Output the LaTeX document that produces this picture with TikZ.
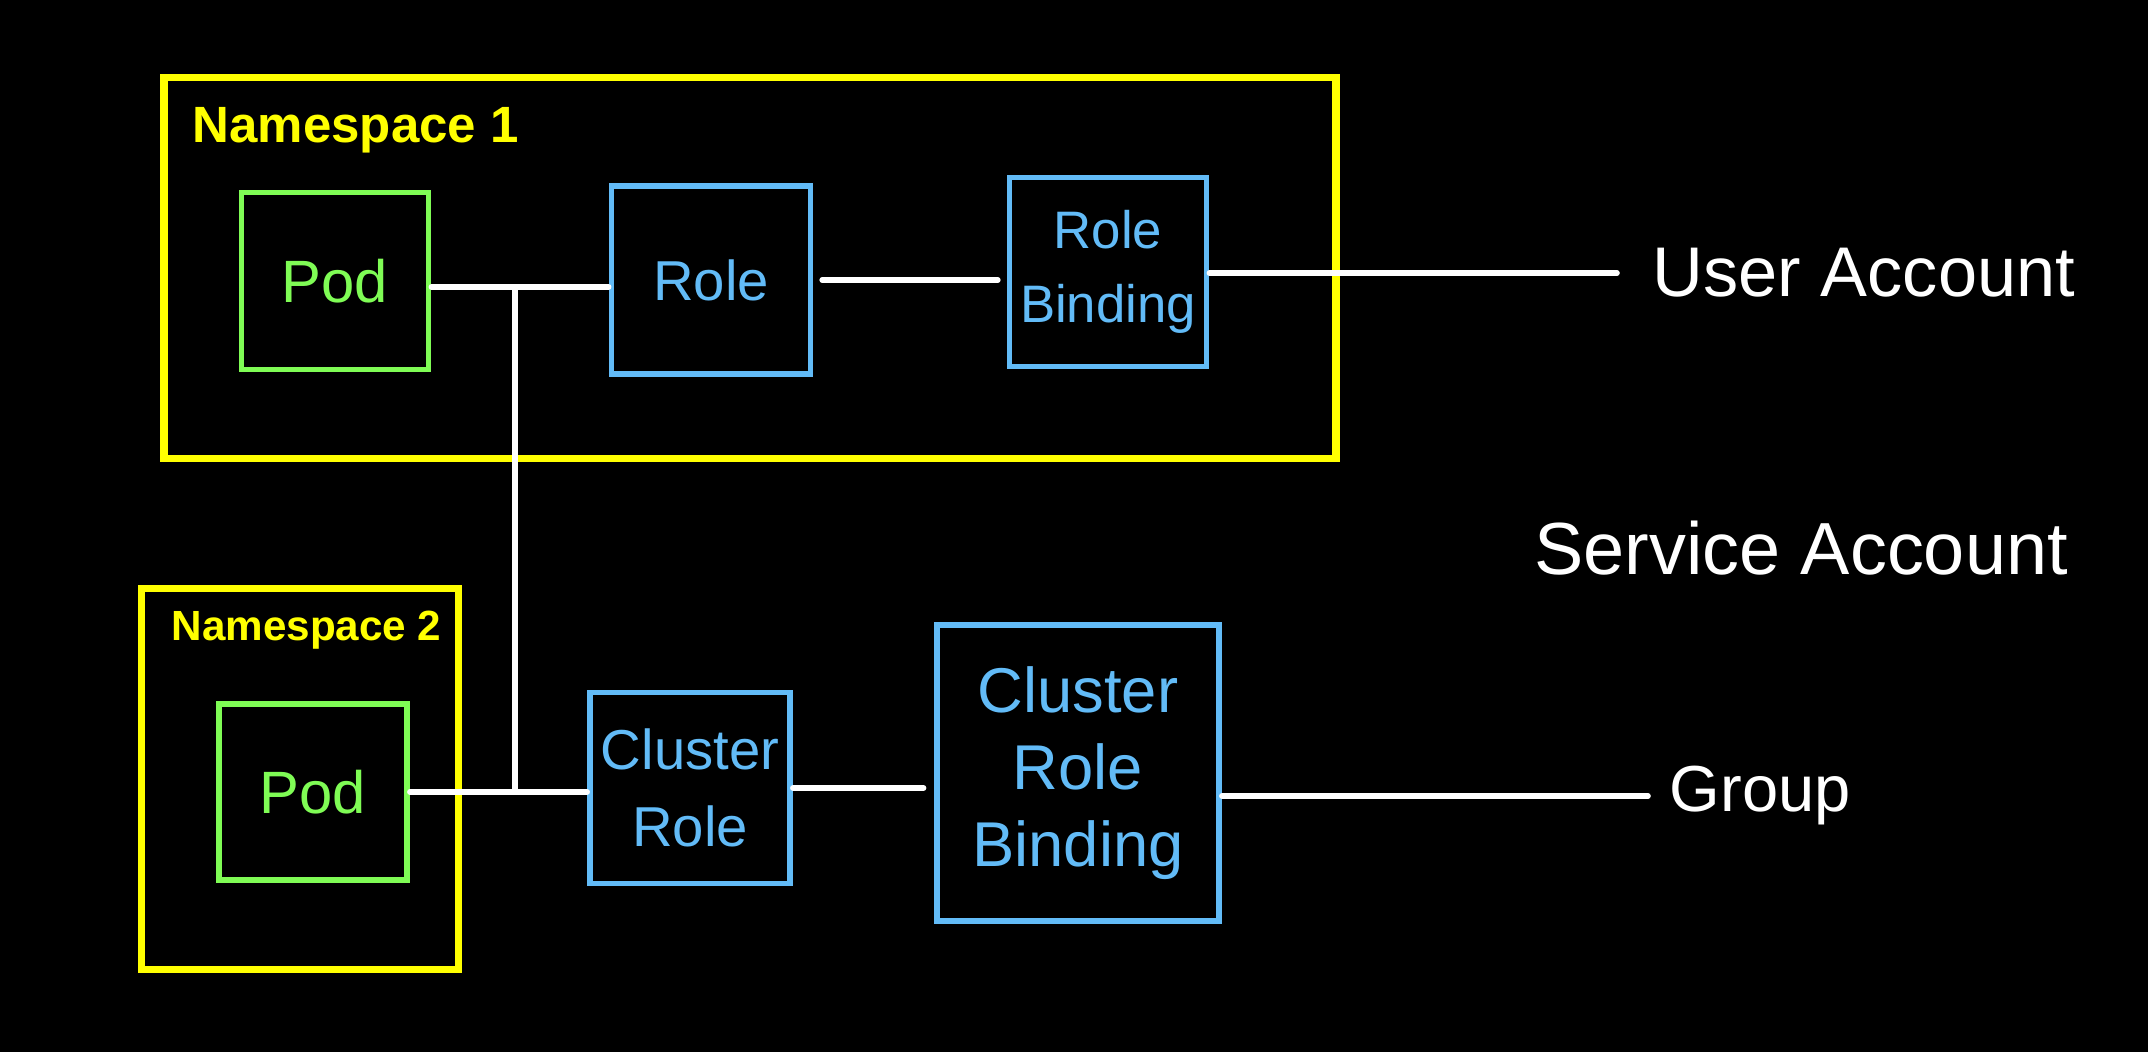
\documentclass[tikz,border=0pt]{standalone}
\usepackage{fontspec}
\setmainfont{Liberation Sans}
\definecolor{NsYellow}{HTML}{FFFF00}
\definecolor{PodGreen}{HTML}{7FFC55}
\definecolor{RbacBlue}{HTML}{62BBF7}
\usetikzlibrary{positioning, calc}

\begin{document}
\begin{tikzpicture}[
  x=0.01cm, y=-0.01cm,
  nsbox/.style={rectangle, draw=NsYellow, line width=2.2pt, inner sep=0pt},
  nslabel/.style={anchor=west, inner sep=0pt, text=NsYellow, font=\bfseries},
  podbox/.style={rectangle, draw=PodGreen, line width=1.6pt, text=PodGreen, font=\fontsize{17}{21}\selectfont, inner sep=0pt},
  rbac/.style={rectangle, draw=RbacBlue, line width=1.6pt, text=RbacBlue, align=center, inner sep=0pt},
  subject/.style={text=white, font=\fontsize{20}{24}\selectfont, inner sep=0pt},
  link/.style={draw=white, line width=1.6pt, line cap=round}
]
  % black page
  \fill[black] (0,0) rectangle (2148,1052);
  \useasboundingbox (0,0) rectangle (2148,1052);

  % namespaces
  \node[nsbox, minimum width=11.72cm, minimum height=3.81cm] (ns1) at (750,268) {};
  \node[nslabel, font=\bfseries\fontsize{14.5}{17}\selectfont] (ns1lbl) at (192,130) {Namespace 1};
  \node[nsbox, minimum width=3.17cm, minimum height=3.81cm] (ns2) at (300,779) {};
  \node[nslabel, font=\bfseries\fontsize{12}{14}\selectfont] (ns2lbl) at (171,630) {Namespace 2};

  % pods
  \node[podbox, minimum width=1.87cm, minimum height=1.77cm] (pod1) at (335,281) {Pod};
  \node[podbox, minimum width=1.88cm, minimum height=1.76cm] (pod2) at (313,792) {Pod};

  % roles and bindings
  \node[rbac, minimum width=1.99cm, minimum height=1.88cm, font=\fontsize{16}{20}\selectfont] (role) at (711,280) {Role};
  \node[rbac, minimum width=1.97cm, minimum height=1.89cm, font=\fontsize{15}{21}\selectfont] (rb) at (1108,272) {Role\\Binding};
  \node[rbac, minimum width=2.00cm, minimum height=1.91cm, font=\fontsize{16}{22}\selectfont] (cr) at (690,788) {Cluster\\Role};
  \node[rbac, minimum width=2.82cm, minimum height=2.96cm, font=\fontsize{18}{22}\selectfont] (crb) at (1078,773) {Cluster\\Role\\Binding};

  % subjects
  \node[subject, anchor=west, inner xsep=10pt] (ua) at (1617,273) {User Account};
  \node[subject, font=\fontsize{21}{25}\selectfont] (sa) at (1801,548) {Service Account};
  \node[subject, anchor=west, inner xsep=6pt, font=\fontsize{18.5}{22}\selectfont] (grp) at (1648,796) {Group};

  % connectors
  \coordinate (jtop) at (515,287);
  \draw[link] (jtop -| pod1.east) -- (jtop -| role.west);
  \coordinate (jbot) at (jtop |- pod2.east);
  \draw[link] (jtop) -- (jbot);
  \draw[link] (pod2.east) -- (pod2.east -| cr.west);
  \draw[link, shorten <=2.5pt, shorten >=2.5pt] (role.east) -- (role.east -| rb.west);
  \draw[link] (ua.west -| rb.east) -- (ua.west);
  \draw[link, shorten >=3pt] (cr.east) -- (cr.east -| crb.west);
  \draw[link] (grp.west -| crb.east) -- (grp.west);
\end{tikzpicture}
\end{document}
